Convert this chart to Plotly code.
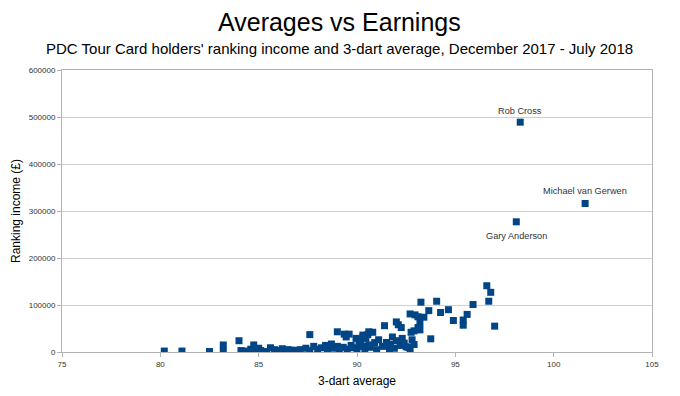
import plotly.graph_objects as go

# Labelled players
label_names = ["Rob Cross", "Michael van Gerwen", "Gary Anderson"]
label_avg = [98.3, 101.6, 98.1]
label_income = [489000, 316000, 277000]
label_offset = [11, 12, -14]

# Other tour card holders (3-dart average, ranking income in £)
avg = [96.6, 96.8, 96.7, 95.9, 94.65, 94.25, 94.9, 95.4, 95.4, 95.6, 97.0, 94.05,
       93.25, 93.65, 92.7, 92.95, 93.1, 93.4, 91.4, 92.0, 92.1, 92.25, 93.2, 93.1,
       93.2, 92.75, 92.9, 93.75, 90.8, 90.55, 90.3, 89.95, 89.6, 91.5, 91.8, 92.3,
       92.5, 91.65, 92.7, 87.6, 89.0, 89.35, 89.45,
       84.0, 83.2, 83.2, 80.2, 81.1, 82.5, 84.1, 84.4, 84.6, 84.8, 84.75, 85.0,
       85.1, 85.4, 85.6, 85.8, 86.0, 86.2, 86.5, 86.7, 86.9, 87.1, 87.4, 87.6,
       87.8, 88.0, 88.2, 88.4, 88.5, 88.7, 88.8, 89.0, 89.1, 89.3, 89.5, 89.7,
       89.8, 90.0, 90.1, 90.2, 90.3, 90.4, 90.45, 90.6, 90.7, 90.9, 91.0, 91.1,
       91.3, 91.5, 91.7, 91.9, 92.0, 92.2, 92.4, 92.6, 92.8, 92.9, 90.6, 90.3]
income = [141000, 127000, 108000, 101000, 90000, 84000, 67000, 68000, 57000, 80000, 55000, 108000,
          106000, 88000, 81000, 79000, 75000, 74000, 56000, 64000, 58000, 52000, 61000, 52000,
          47000, 42000, 45000, 28000, 42000, 37000, 32000, 29000, 38000, 20000, 32000, 29000,
          11000, 6000, 5000, 37000, 43000, 38000, 32000,
          24000, 15000, 2000, 2000, 2000, 1000, 3000, 2000, 6000, 1000, 15000, 8000,
          3000, 1000, 9000, 5000, 3000, 7000, 5000, 4000, 3000, 5000, 8000, 3000,
          12000, 6000, 9000, 14000, 4000, 17000, 8000, 12000, 3000, 10000, 6000, 14000,
          9000, 4000, 18000, 25000, 12000, 7000, 29000, 15000, 10000, 20000, 5000, 26000,
          12000, 20000, 16000, 8000, 24000, 14000, 19000, 10000, 26000, 16000, 43000, 36000]

x_ticks = [75, 80, 85, 90, 95, 100, 105]
y_ticks = [0, 100000, 200000, 300000, 400000, 500000, 600000]

COLOR = "#004586"
FONT = "Liberation Sans"

fig = go.Figure()
fig.add_trace(go.Scatter(
    x=avg, y=income, mode="markers",
    marker=dict(symbol="square", size=7, color=COLOR),
    showlegend=False, hoverinfo="x+y"))
fig.add_trace(go.Scatter(
    x=label_avg, y=label_income, mode="markers", text=label_names,
    marker=dict(symbol="square", size=7, color=COLOR),
    showlegend=False, hoverinfo="text+x+y"))

annotations = [
    dict(text="Averages vs Earnings", xref="paper", yref="paper",
         x=0.471, y=1, xanchor="center", yanchor="middle", yshift=48,
         showarrow=False, font=dict(family=FONT, size=25, color="black")),
    dict(text="PDC Tour Card holders' ranking income and 3-dart average, December 2017 - July 2018",
         xref="paper", yref="paper", x=0.471, y=1, xanchor="center", yanchor="middle",
         yshift=22, showarrow=False, font=dict(family=FONT, size=15, color="black")),
]
for name, xv, yv, off in zip(label_names, label_avg, label_income, label_offset):
    annotations.append(dict(text=name, x=xv, y=yv, xref="x", yref="y",
                            xanchor="center", yanchor="middle", yshift=off,
                            showarrow=False,
                            font=dict(family=FONT, size=9.2, color="#333333")))

fig.update_layout(
    width=664, height=380,
    margin=dict(l=54, r=20, t=62, b=36),
    paper_bgcolor="white", plot_bgcolor="white",
    font=dict(family=FONT, color="black"),
    annotations=annotations,
)
fig.update_xaxes(
    range=[75, 105], tickvals=x_ticks, ticktext=[str(v) for v in x_ticks],
    automargin=False,
    showgrid=False, zeroline=False, showline=True, linecolor="#b3b3b3", linewidth=1,
    mirror=True, ticks="outside", ticklen=4, tickcolor="#b3b3b3",
    tickfont=dict(family=FONT, size=8, color="#333333"),
    title=dict(text="3-dart average", font=dict(family=FONT, size=12, color="black"), standoff=11),
)
fig.update_yaxes(
    range=[0, 600000], tickvals=y_ticks, ticktext=[str(v) for v in y_ticks],
    automargin=False,
    showgrid=True, gridcolor="#d0d0d0", gridwidth=1, zeroline=False,
    showline=True, linecolor="#b3b3b3", linewidth=1, mirror=True,
    ticks="outside", ticklen=4, tickcolor="#b3b3b3",
    tickfont=dict(family=FONT, size=8, color="#333333"),
    title=dict(text="Ranking income (£)", font=dict(family=FONT, size=12, color="black"), standoff=5),
)

fig.write_html("out.html")
